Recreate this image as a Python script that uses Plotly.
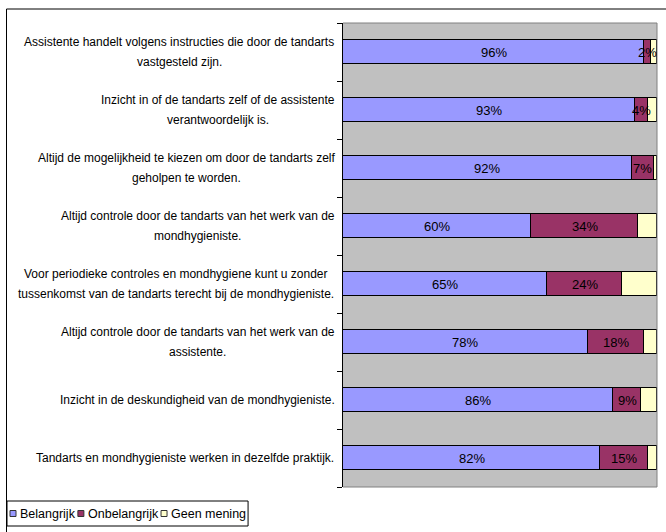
import plotly.graph_objects as go

# Survey statements (each entry is the wrapped label, one string per line)
statements = [
    ["Assistente handelt volgens instructies die door de tandarts", "vastgesteld zijn."],
    ["Inzicht in of de tandarts zelf of de assistente", "verantwoordelijk is."],
    ["Altijd de mogelijkheid te kiezen om door de tandarts zelf", "geholpen te worden."],
    ["Altijd controle door de tandarts van het werk van de", "mondhygieniste."],
    ["Voor periodieke controles en mondhygiene kunt u zonder",
     "tussenkomst van de tandarts terecht bij de mondhygieniste."],
    ["Altijd controle door de tandarts van het werk van de", "assistente."],
    ["Inzicht in de deskundigheid van de mondhygieniste."],
    ["Tandarts en mondhygieniste werken in dezelfde praktijk."],
]

# Percentages per answer
belangrijk = [96, 93, 92, 60, 65, 78, 86, 82]
onbelangrijk = [2, 4, 7, 34, 24, 18, 9, 15]
geen_mening = [2, 3, 1, 6, 11, 4, 5, 3]

series_names = ["Belangrijk", "Onbelangrijk", "Geen mening"]
series_values = [belangrijk, onbelangrijk, geen_mening]
series_colors = ["#9999FF", "#993366", "#FFFFCC"]
labelled_series = [True, True, False]

FONT = "Liberation Sans, Arial, sans-serif"
W, H = 666, 532
L, R, T, B = 343, 657, 23, 487  # plot area in pixels

# Arial / Liberation Sans advance widths (1/1000 em) for measuring label lines
ADV = dict(zip("abcdefghijklmnopqrstuvwxyz",
               [556, 556, 500, 556, 556, 278, 556, 556, 222, 222, 500, 222, 833,
                556, 556, 556, 556, 333, 500, 278, 556, 500, 722, 500, 500, 500]))
ADV.update({"A": 667, "I": 278, "T": 611, "V": 667, "B": 667, "O": 778, "G": 778,
            " ": 278, ".": 278})


def text_width(s, size):
    return sum(ADV.get(c, 556) for c in s) * size / 1000.0


def px_x(px):
    return (px - L) / (R - L)


def px_y(py):
    return (B - py) / (B - T)


positions = list(range(len(statements)))

fig = go.Figure()
for name, vals, color in zip(series_names, series_values, series_colors):
    fig.add_trace(go.Bar(
        name=name, orientation="h", x=vals, y=positions, width=0.4,
        marker=dict(color=color, line=dict(color="#000000", width=1)),
        showlegend=False, hoverinfo="x+name",
    ))

annotations = []

# Value labels centred in each labelled segment
for i in positions:
    start = 0
    for vals, show in zip(series_values, labelled_series):
        v = vals[i]
        if show:
            annotations.append(dict(
                x=start + v / 2, y=i, xref="x", yref="y", text=f"{v}%",
                showarrow=False, font=dict(family=FONT, size=13, color="#000000"),
                xanchor="center", yanchor="middle"))
        start += v

# Category labels: right-aligned block, lines centred within it
LABEL_SIZE = 12
LABEL_RIGHT = 334.5
LINE_GAP = 20
for i, lines in enumerate(statements):
    block = max(text_width(s, LABEL_SIZE) for s in lines)
    cx = LABEL_RIGHT - block / 2
    n = len(lines)
    for k, s in enumerate(lines):
        offset = ((n - 1) / 2 - k) * LINE_GAP
        annotations.append(dict(
            x=px_x(cx), y=i, xref="paper", yref="y", yshift=offset, text=s,
            showarrow=False, font=dict(family=FONT, size=LABEL_SIZE, color="#000000"),
            xanchor="center", yanchor="middle"))

shapes = []

# Plot-area frame (top, right, bottom) in grey
for x0, y0, x1, y1 in [(0, 1, 1, 1), (1, 1, 1, 0), (0, 0, 1, 0)]:
    shapes.append(dict(type="line", xref="paper", yref="paper", x0=x0, y0=y0,
                       x1=x1, y1=y1, line=dict(color="#808080", width=1), layer="above"))

# Chart-area border (top and left edges)
shapes.append(dict(type="line", xref="paper", yref="paper", x0=px_x(6.5), y0=px_y(9),
                   x1=px_x(W + 2), y1=px_y(9), line=dict(color="#000000", width=1)))
shapes.append(dict(type="line", xref="paper", yref="paper", x0=px_x(6.5), y0=px_y(9),
                   x1=px_x(6.5), y1=px_y(H + 2), line=dict(color="#000000", width=1)))

# Legend: boxed row of swatches and names
LEG_SIZE = 12.5
leg_top, leg_bottom = 501, 526
leg_mid = (leg_top + leg_bottom) / 2
cursor = 10
for name, color in zip(series_names, series_colors):
    shapes.append(dict(type="rect", xref="paper", yref="paper",
                       x0=px_x(cursor), x1=px_x(cursor + 6),
                       y0=px_y(leg_mid - 3), y1=px_y(leg_mid + 3),
                       fillcolor=color, line=dict(color="#333333", width=1)))
    tx = cursor + 8
    annotations.append(dict(
        x=px_x(tx), y=px_y(leg_mid), xref="paper", yref="paper", text=name,
        showarrow=False, font=dict(family=FONT, size=LEG_SIZE, color="#000000"),
        xanchor="left", yanchor="middle"))
    cursor = tx + text_width(name, LEG_SIZE) + 5
shapes.append(dict(type="rect", xref="paper", yref="paper",
                   x0=px_x(7), x1=px_x(cursor - 1), y0=px_y(leg_top), y1=px_y(leg_bottom),
                   line=dict(color="#000000", width=1), fillcolor="rgba(0,0,0,0)"))

n = len(statements)
fig.update_layout(
    width=W, height=H, autosize=False,
    margin=dict(l=L, r=W - R, t=T, b=H - B, pad=0),
    barmode="stack", bargap=0,
    paper_bgcolor="#FFFFFF", plot_bgcolor="#C0C0C0",
    font=dict(family=FONT, size=12, color="#000000"),
    xaxis=dict(range=[0, 100], showticklabels=False, showgrid=False, zeroline=False,
               showline=False, ticks="", fixedrange=True),
    yaxis=dict(range=[n - 0.5, -0.5], tickmode="array",
               tickvals=[k - 0.5 for k in range(n + 1)], ticktext=[""] * (n + 1),
               ticks="outside", ticklen=5, tickcolor="#000000", tickwidth=1,
               showgrid=False, zeroline=False, showline=True, linecolor="#000000",
               linewidth=1, showticklabels=False),
    annotations=annotations, shapes=shapes, showlegend=False,
)

fig.write_html("out.html")
